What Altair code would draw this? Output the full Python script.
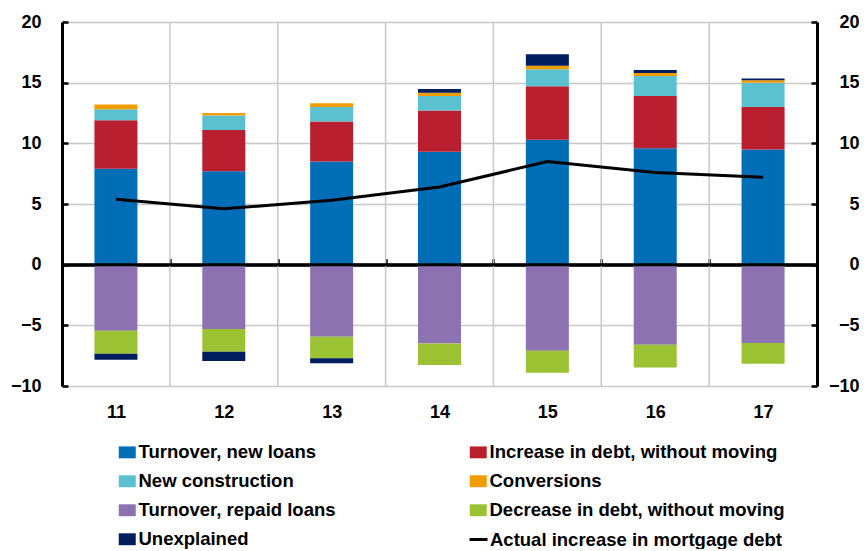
import altair as alt
import pandas as pd

years = ["11", "12", "13", "14", "15", "16", "17"]
series = [
    "Turnover, new loans",
    "Increase in debt, without moving",
    "New construction",
    "Conversions",
    "Turnover, repaid loans",
    "Decrease in debt, without moving",
    "Unexplained",
]
colors = ["#006eb6", "#b91f2e", "#5bc0cf", "#f39c00", "#8c72b0", "#9bc232", "#001e5e"]

turnover_new = [7.9, 7.7, 8.5, 9.3, 10.3, 9.6, 9.5]
increase = [4.0, 3.4, 3.3, 3.4, 4.4, 4.3, 3.5]
new_construction = [0.9, 1.2, 1.2, 1.2, 1.4, 1.65, 2.0]
conversions = [0.4, 0.2, 0.3, 0.27, 0.3, 0.25, 0.19]
turnover_repaid = [-5.45, -5.3, -5.95, -6.5, -7.1, -6.6, -6.45]
decrease = [-1.9, -1.87, -1.76, -1.76, -1.8, -1.87, -1.71]
unexplained = [-0.49, -0.77, -0.42, 0.31, 0.94, 0.25, 0.16]
actual = [5.4, 4.6, 5.3, 6.4, 8.5, 7.6, 7.2]
line_label = "Actual increase in mortgage debt"

y_ticks = [-10, -5, 0, 5, 10, 15, 20]

all_series = [turnover_new, increase, new_construction, conversions,
              turnover_repaid, decrease, unexplained]
rows = []
for i, (name, vals) in enumerate(zip(series, all_series)):
    for yr, v in zip(years, vals):
        rows.append({"year": yr, "series": name, "value": v, "idx": i})
df = pd.DataFrame(rows)
ldf = pd.DataFrame({"year": years, "value": actual, "label": line_label})
zdf = pd.DataFrame({"zero": [0]})
gdf = pd.DataFrame({"year": years[1:]})  # inner category boundaries

# legend is filled column by column: order entries so rows read like the original
legend_order = [0, 2, 4, 6, 1, 3, 5]
legend_domain = [series[i] for i in legend_order]
legend_range = [colors[i] for i in legend_order]

FONT = "Liberation Sans"
GRID = "#c8c8c8"
W, H = 755, 364
INWARD = alt.ExprRef("-6")  # ticks drawn inside the plot, as in the original
ydom = alt.Scale(domain=[-10, 20], nice=False, zero=False)
xscale = alt.Scale(domain=years, paddingInner=0, paddingOuter=0)

x_axis = alt.Axis(
    title=None, orient="bottom", offset=-H * 10 / 30, tickBand="extent",
    grid=False, domainColor="black", domainWidth=3, tickColor="black",
    tickWidth=2.5, tickSize=INWARD, labelPadding=145, labelFontSize=18,
    labelFontWeight="bold", labelColor="black", labelFont=FONT, labelAngle=0,
)

def y_axis(orient, grid, **kw):
    return alt.Axis(
        title=None, orient=orient, values=y_ticks, grid=grid,
        gridColor=GRID, gridWidth=1.5, domainColor="black", domainWidth=3,
        tickColor="black", tickWidth=2.5, tickSize=INWARD,
        labelFontSize=18, labelFontWeight="bold", labelColor="black",
        labelFont=FONT, **kw,
    )

xenc = alt.X("year:N", sort=years, scale=xscale, axis=x_axis)

vgrid = alt.Chart(gdf).mark_rule(color=GRID, strokeWidth=1.5).encode(
    x=alt.X("year:N", sort=years, scale=xscale, axis=x_axis, bandPosition=0)
)

bars = alt.Chart(df).mark_bar(size=43).encode(
    x=xenc,
    y=alt.Y("value:Q", stack="zero", scale=ydom, axis=y_axis("left", True, labelPadding=27)),
    color=alt.Color(
        "series:N",
        scale=alt.Scale(domain=legend_domain, range=legend_range),
        legend=alt.Legend(
            title=None, orient="none", legendX=56, legendY=421, columns=2,
            columnPadding=133, rowPadding=10,
            symbolType="M-1,-0.7H1V0.7H-1Z", symbolSize=289, symbolStrokeWidth=0,
            labelFontSize=18.5, labelFontWeight="bold", labelFont=FONT,
            labelColor="black", labelOffset=2, labelLimit=400,
        ),
    ),
    order=alt.Order("idx:Q"),
)

zero_rule = alt.Chart(zdf).mark_rule(color="black", strokeWidth=3).encode(
    y=alt.Y("zero:Q", scale=ydom)
)

line = alt.Chart(ldf).mark_line(strokeWidth=3).encode(
    x=xenc,
    y=alt.Y("value:Q", scale=ydom,
            axis=y_axis("right", False, labelPadding=48, labelAlign="right")),
    stroke=alt.Stroke(
        "label:N",
        scale=alt.Scale(domain=[line_label], range=["black"]),
        legend=alt.Legend(
            title=None, orient="none", legendX=406, legendY=507,
            symbolType="stroke", symbolSize=324, symbolStrokeWidth=3,
            labelFontSize=18.5, labelFontWeight="bold", labelFont=FONT,
            labelColor="black", labelOffset=1, labelLimit=400,
        ),
    ),
)

chart = alt.layer(alt.layer(vgrid, bars, zero_rule), line).resolve_scale(y="independent").properties(
    width=W, height=H,
    padding={"left": 2, "top": 5, "right": 0, "bottom": 0},
).configure_view(stroke=None)

chart.save("out.html", embed_options={"renderer": "svg", "actions": False})
